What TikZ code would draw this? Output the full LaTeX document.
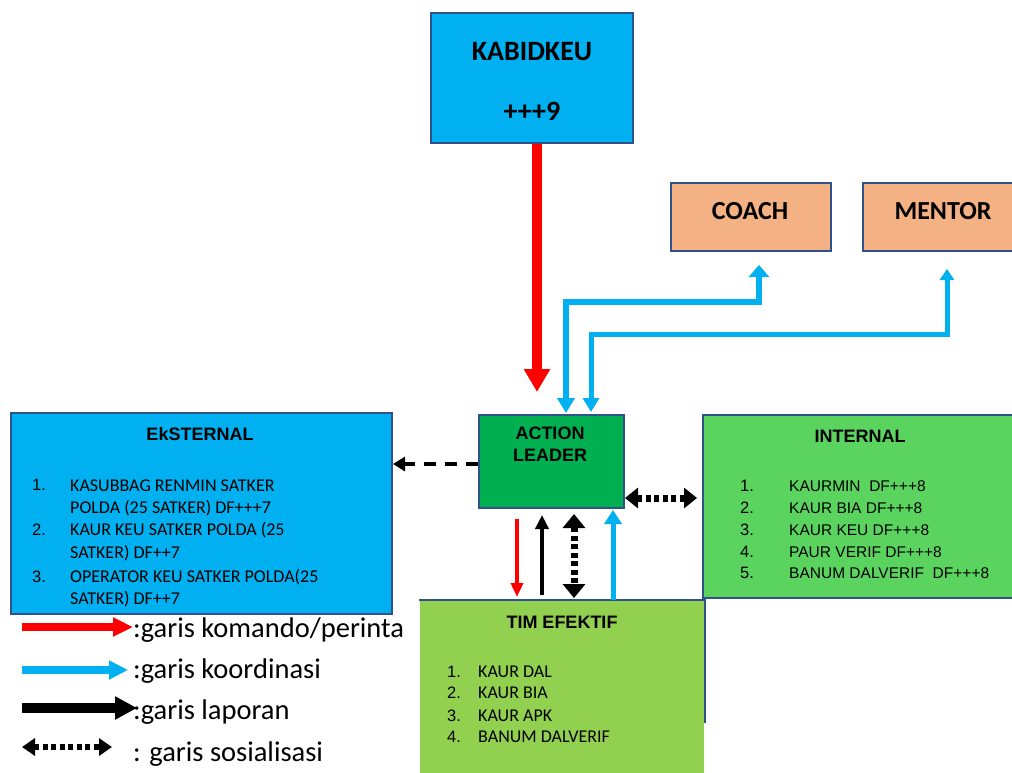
\documentclass[tikz,border=0pt]{standalone}
\usepackage{fontspec}
\setmainfont{Carlito}
\newfontfamily\arial{Liberation Sans}
\usetikzlibrary{calc, arrows.meta}
\definecolor{boxblue}{HTML}{00B0F0}
\definecolor{edge}{HTML}{2F528F}
\definecolor{leadgreen}{HTML}{00B050}
\definecolor{intgreen}{HTML}{5AD45F}
\definecolor{timgreen}{HTML}{92D050}
\definecolor{peach}{HTML}{F4B183}
\tikzset{
    box/.style={draw=edge, line width=2pt, inner sep=0pt, anchor=north west},
    hd/.style={font=\arial\bfseries\fontsize{18}{20}\selectfont, inner sep=0pt, anchor=base},
    big/.style={font=\bfseries\fontsize{28}{30}\selectfont, inner sep=0pt, anchor=base},
    item/.style={font=\fontsize{18}{20}\selectfont, inner sep=0pt, anchor=base west},
    itema/.style={font=\arial\fontsize{15.5}{18}\selectfont, inner sep=0pt, anchor=base west},
    num/.style={font=\arial\fontsize{16.5}{18}\selectfont, inner sep=0pt, anchor=base west},
    lgtext/.style={font=\fontsize{28.5}{30}\selectfont, inner sep=0pt, anchor=base west},
    sosline/.style={line width=#1, dash pattern=on 5pt off 3.5pt},
}

\begin{document}
\begin{tikzpicture}[x=1pt, y=-1pt]
    \useasboundingbox (0,0) rectangle (1012,772);
    \clip (0,0) rectangle (1012,772);

    %boxes
    \node[box, fill=boxblue, minimum width=202pt, minimum height=130pt] (kabid) at (430,12) {};
    \node[box, fill=peach, minimum width=160pt, minimum height=68pt] (coach) at (670,182) {};
    \node[box, fill=peach, minimum width=170pt, minimum height=68pt] (mentor) at (862,182) {};
    \node[box, fill=leadgreen, minimum width=145pt, minimum height=93pt] (lead) at (478,414) {};
    \node[box, fill=boxblue, minimum width=381pt, minimum height=201pt] (eks) at (10,412) {};
    \node[box, fill=intgreen, minimum width=330pt, minimum height=183pt] (intl) at (702,414) {};
    \node[box, draw=none, fill=timgreen, minimum width=284pt, minimum height=180pt] (tim) at (419,600) {};
    \draw[edge, line width=2pt] (tim.north west) -- (tim.north east) -- ($(tim.north east)+(0,123)$);

    %box texts
    \node[big] (kabidT) at (532,60) {KABIDKEU};
    \node[big] (kabidN) at (532,120) {+++9};
    \node[big, font=\bfseries\fontsize{26}{28}\selectfont] (coachT) at (750,219) {COACH};
    \node[big, font=\bfseries\fontsize{26}{28}\selectfont] (mentorT) at (943,219) {MENTOR};
    \node[hd] (leadT1) at (550,439) {ACTION};
    \node[hd] (leadT2) at (550,461.5) {LEADER};
    \node[hd] (eksT) at (200,440) {EkSTERNAL};
    \node[hd] (intlT) at (860,442) {INTERNAL};
    \node[hd] (timT) at (562,628) {TIM EFEKTIF};

    %lists
    \foreach \n/\y in {1./490, 2./535, 3./582}
        \node[num] at (32,\y) {\n};
    \foreach \t/\y in {KASUBBAG RENMIN SATKER/491, {POLDA (25 SATKER) DF+++7}/513,
            {KAUR KEU SATKER POLDA (25}/535, {SATKER) DF++7}/558,
            {OPERATOR KEU SATKER POLDA(25}/582, {SATKER) DF++7}/604}
        \node[item] at (70,\y) {\t};
    \foreach \t/\y [count=\k] in {KAURMIN\ \ DF+++8/491, KAUR BIA DF+++8/513,
            KAUR KEU DF+++8/535, PAUR VERIF DF+++8/557, BANUM DALVERIF\ \ DF+++8/578}
    {
        \node[num] at (740,\y) {\k.};
        \node[itema] at (789,\y) {\t};
    }
    \foreach \t/\y [count=\k] in {KAUR DAL/677, KAUR BIA/698, KAUR APK/721, BANUM DALVERIF/742}
    {
        \node[num] at (447,\y) {\k.};
        \node[item] at (478,\y) {\t};
    }

    %command line
    \draw[red, line width=10pt, -{Triangle[length=23pt, width=25pt]}]
        ([xshift=5pt]kabid.south) -- ($(lead.north)+(-14.5,-22)$);

    %coordination lines to coach and mentor
    \draw[boxblue, line width=6pt, {Triangle[length=15pt, width=17pt]}-{Triangle[length=12pt, width=20pt]}]
        ($(lead.north)+(14.5,-1)$) |- ($(coach.south)+(8,50)$) -- ($(coach.south)+(8,13)$);
    \draw[boxblue, line width=5pt, {Triangle[length=14pt, width=16pt]}-{Triangle[length=11pt, width=14pt]}]
        ($(lead.north)+(39.5,-2)$) |- ($(mentor.south)+(-1,82)$) -- ($(mentor.south)+(-1,17)$);

    %lines between action leader and tim efektif
    \draw[red, line width=4pt, -{Triangle[length=14pt, width=12pt]}]
        ($(lead.south)+(-34.5,10)$) -- ($(lead.south |- tim.north)+(-34.5,-3)$);
    \draw[black, line width=4pt, -{Triangle[length=14pt, width=13pt]}]
        ($(lead.south |- tim.north)+(-9.5,-5)$) -- ($(lead.south)+(-9.5,6)$);
    \draw[black, sosline=7pt, {Triangle[length=14pt, width=22pt]}-{Triangle[length=14pt, width=22pt]}]
        ($(lead.south)+(22.5,5)$) -- ($(lead.south |- tim.north)+(22.5,-2)$);
    \draw[boxblue, line width=5pt, -{Triangle[length=14pt, width=17pt]}]
        ($(lead.south |- tim.north)+(61.5,0)$) -- ($(lead.south)+(61.5,1)$);

    %internal and eksternal
    \draw[black, sosline=7pt, {Triangle[length=13pt, width=20pt]}-{Triangle[length=13pt, width=20pt]}]
        ($(lead.east)+(0,36.5)$) -- ($(intl.west)+(-5,-8.5)$);
    \draw[black, line width=4pt, dash pattern=on 12pt off 9pt, -{Triangle[length=12pt, width=14pt]}]
        ($(lead.west)+(0,2.5)$) -- ($(eks.east)+(0,-49.5)$);

    %legend
    \node[lgtext] (lgKom) at (133,637) {:garis komando/perinta};
    \node[lgtext] (lgKoor) at (133,678) {:garis koordinasi};
    \node[lgtext] (lgLap) at (133,719) {:garis laporan};
    \node[lgtext] (lgSos) at (133,761) {: garis sosialisasi};
    \draw[red, line width=8pt, -{Triangle[length=20pt, width=18pt]}]
        (22,627) -- (lgKom.west |- 0,627);
    \draw[boxblue, line width=8pt, -{Triangle[length=19pt, width=18pt]}]
        (22,670) -- ([xshift=-5pt]lgKoor.west |- 0,670);
    \draw[black, line width=10pt, -{Triangle[length=22pt, width=22pt]}]
        (22,708) -- ([xshift=4pt]lgLap.west |- 0,708);
    \draw[black, sosline=6pt, {Triangle[length=13pt, width=17pt]}-{Triangle[length=13pt, width=17pt]}]
        (22,747) -- ([xshift=-21pt]lgSos.west |- 0,747);
\end{tikzpicture}
\end{document}
